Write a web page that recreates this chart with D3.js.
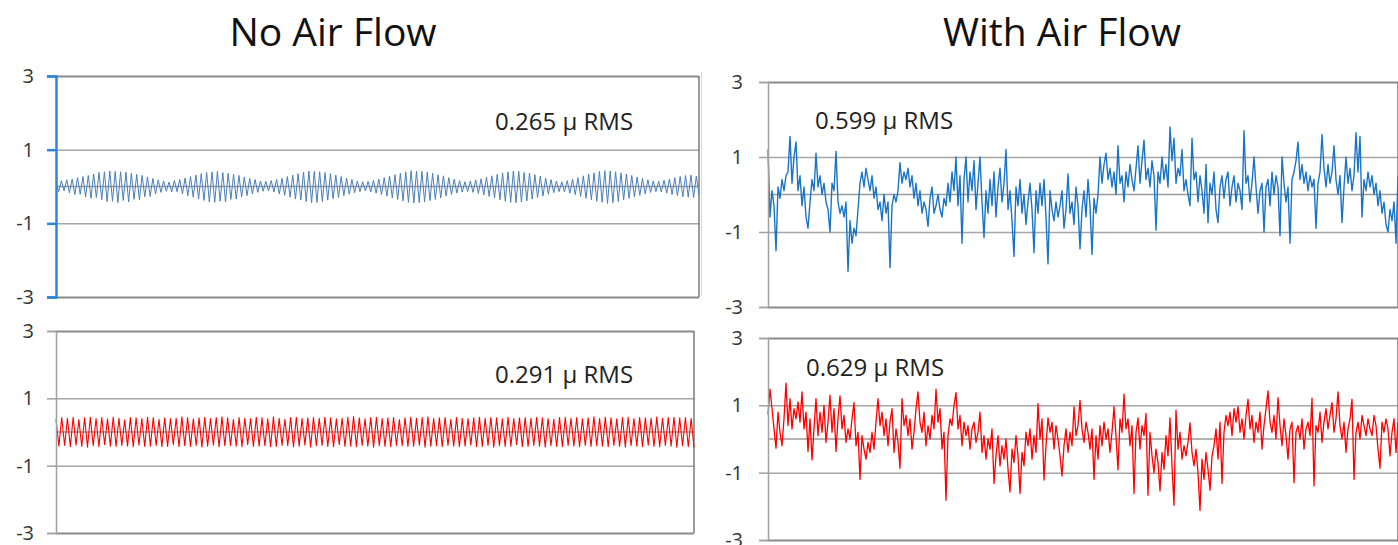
<!DOCTYPE html>
<html>
<head>
<meta charset="utf-8">
<script src="https://cdn.jsdelivr.net/npm/d3@7"></script>
<style>
  body { margin: 0; background: #fff; }
  svg { display: block; }
  text { font-family: "Open Sans", "Noto Sans", sans-serif; fill: #222; }
</style>
</head>
<body>
<svg id="chart" width="1398" height="545"></svg>
<script>
var yTicks = [3, 1, -1, -3]
var titles = ["No Air Flow", "With Air Flow"]
var rmsLabels = ["0.265 \u03bc RMS", "0.291 \u03bc RMS", "0.599 \u03bc RMS", "0.629 \u03bc RMS"]

// no air flow, blue trace (displacement, microns)
var noFlowBlue = [
  0.10,-0.14,0.16,-0.12,0.18,-0.17,0.20,-0.22,0.24,-0.21,0.27,-0.28,0.30,-0.32,0.34,-0.30,0.38,-0.36,0.40,-0.41,
  0.42,-0.40,0.41,-0.44,0.40,-0.38,0.39,-0.42,0.36,-0.35,0.33,-0.36,0.30,-0.28,0.26,-0.27,0.22,-0.20,0.18,-0.16,
  0.15,-0.13,0.12,-0.15,0.16,-0.14,0.19,-0.20,0.23,-0.25,0.27,-0.29,0.31,-0.34,0.35,-0.38,0.38,-0.42,0.40,-0.43,
  0.41,-0.40,0.38,-0.42,0.36,-0.35,0.33,-0.34,0.30,-0.28,0.26,-0.25,0.22,-0.20,0.19,-0.16,0.15,-0.13,0.14,-0.12,
  0.16,-0.15,0.19,-0.20,0.22,-0.24,0.27,-0.29,0.31,-0.34,0.35,-0.37,0.39,-0.41,0.42,-0.44,0.41,-0.43,0.40,-0.41,
  0.38,-0.37,0.35,-0.33,0.31,-0.30,0.27,-0.25,0.23,-0.21,0.19,-0.17,0.15,-0.14,0.13,-0.12,0.14,-0.15,0.17,-0.18,
  0.20,-0.22,0.24,-0.26,0.28,-0.31,0.32,-0.35,0.36,-0.39,0.40,-0.43,0.43,-0.45,0.42,-0.44,0.41,-0.42,0.39,-0.38,
  0.36,-0.35,0.32,-0.31,0.29,-0.26,0.24,-0.22,0.20,-0.18,0.16,-0.15,0.13,-0.14,0.15,-0.16,0.18,-0.19,0.21,-0.23,
  0.25,-0.27,0.29,-0.31,0.33,-0.36,0.37,-0.40,0.40,-0.43,0.42,-0.44,0.41,-0.42,0.38,-0.39,0.36,-0.34,0.32,-0.30,
  0.28,-0.26,0.23,-0.21,0.19,-0.17,0.15,-0.14,0.13,-0.15,0.16,-0.18,0.20,-0.22,0.24,-0.27,0.29,-0.32,0.34,-0.36,
  0.37,-0.40,0.41,-0.43,0.43,-0.46,0.42,-0.44,0.40,-0.41,0.37,-0.36,0.34,-0.32,0.30,-0.28,0.26,-0.24,0.22,-0.20,
  0.18,-0.16,0.15,-0.14,0.14,-0.15,0.17,-0.18,0.20,-0.22,0.24,-0.25,0.27,-0.28,0.30,-0.29,0.31,-0.30,0.28,-0.22
]

// no air flow, red trace
var noFlowRed = [
  0.38,-0.42,0.43,-0.40,0.41,-0.44,0.44,-0.39,0.37,-0.43,0.42,-0.45,0.44,-0.41,0.40,-0.44,0.43,-0.38,0.39,-0.42,
  0.44,-0.43,0.41,-0.40,0.36,-0.42,0.43,-0.44,0.42,-0.39,0.40,-0.43,0.44,-0.42,0.43,-0.40,0.38,-0.44,0.42,-0.43,
  0.40,-0.38,0.41,-0.44,0.45,-0.41,0.43,-0.43,0.39,-0.40,0.42,-0.45,0.44,-0.42,0.40,-0.39,0.43,-0.44,0.45,-0.41,
  0.42,-0.40,0.37,-0.42,0.43,-0.44,0.41,-0.38,0.40,-0.43,0.44,-0.42,0.42,-0.41,0.39,-0.44,0.45,-0.43,0.41,-0.40,
  0.38,-0.41,0.43,-0.44,0.44,-0.42,0.40,-0.39,0.42,-0.45,0.43,-0.41,0.41,-0.40,0.44,-0.43,0.42,-0.44,0.39,-0.38,
  0.41,-0.43,0.44,-0.42,0.46,-0.44,0.42,-0.40,0.39,-0.42,0.43,-0.45,0.44,-0.41,0.40,-0.43,0.42,-0.44,0.43,-0.40,
  0.37,-0.41,0.42,-0.43,0.44,-0.42,0.41,-0.39,0.43,-0.45,0.45,-0.42,0.40,-0.41,0.42,-0.44,0.43,-0.40,0.38,-0.42,
  0.43,-0.44,0.41,-0.42,0.40,-0.39,0.42,-0.44,0.44,-0.43,0.41,-0.40,0.43,-0.45,0.42,-0.41,0.39,-0.43,0.44,-0.42,
  0.40,-0.38,0.42,-0.44,0.43,-0.43,0.41,-0.40,0.44,-0.42,0.42,-0.45,0.40,-0.41,0.38,-0.43,0.43,-0.44,0.44,-0.40,
  0.41,-0.42,0.43,-0.44,0.39,-0.40,0.42,-0.43,0.45,-0.41,0.40,-0.42,0.44,-0.44,0.42,-0.40,0.39,-0.43,0.43,-0.45,
  0.44,-0.41,0.40,-0.42,0.43,-0.44,0.42,-0.39,0.41,-0.43,0.45,-0.44,0.41,-0.40,0.43,-0.42,0.44,-0.45,0.42,-0.41,
  0.43,-0.44,0.40,-0.46
]

// with air flow, blue trace
var flowBlue = [
  1.2,-0.6,0.1,-0.3,-1.5,0.2,-0.1,0.4,0.1,0.5,
  0.6,1.55,0.3,1.0,1.4,0.1,0.5,-0.3,0.2,-0.6,
  -0.9,-0.2,0.4,0.1,1.1,0.2,0.5,0.0,0.3,-0.2,
  -0.4,-1.0,0.3,0.1,1.15,-0.2,-0.5,-0.3,-0.6,-0.2,
  -2.05,-0.7,-1.3,-0.9,-1.1,-0.4,0.3,0.6,0.2,0.7,
  0.4,0.1,0.5,-0.1,0.2,-0.4,-0.2,-0.7,0.0,-0.5,
  -0.2,-1.95,-0.3,0.0,-0.2,0.1,0.85,0.3,0.6,0.4,
  0.7,0.2,0.5,-0.1,0.3,-0.3,0.1,-0.5,-0.2,-0.4,
  -0.85,-0.1,0.2,-0.5,-0.3,0.0,-0.4,-0.6,-0.1,-0.3,
  0.3,-0.2,0.6,0.1,1.0,-0.3,0.5,-1.3,0.4,1.0,
  -0.2,0.6,0.1,0.9,-0.4,0.3,1.0,-0.2,-1.15,0.1,
  -0.5,0.4,-0.3,0.6,-0.6,0.2,0.7,-0.2,0.3,1.2,
  -0.4,0.1,-0.7,-1.65,0.2,-0.3,0.4,-0.5,0.0,-0.8,
  -0.2,0.3,-0.4,-1.55,0.1,-0.5,0.3,-0.3,0.4,-0.6,
  -1.85,0.1,-0.4,-0.7,-0.2,-0.6,-0.3,0.1,-0.9,-0.4,
  0.55,-0.5,-0.2,-0.8,0.2,-0.3,-1.45,-0.4,0.1,-0.6,
  0.4,-0.3,-1.6,-0.1,-0.5,0.0,1.0,0.3,0.8,1.1,
  0.4,0.7,0.2,0.6,0.0,1.3,0.3,0.5,-0.2,0.6,
  0.2,0.8,0.4,0.1,0.7,1.3,0.3,0.9,1.45,0.4,
  0.7,0.2,0.9,0.5,-0.95,0.6,0.3,1.0,0.4,0.8,
  0.2,1.8,0.9,1.5,0.3,0.7,0.5,1.2,0.1,0.4,
  0.0,-0.3,1.5,0.4,0.6,-0.2,0.5,0.1,-0.5,0.8,
  -0.75,0.3,0.0,0.6,-0.4,-0.75,0.2,0.5,-0.1,0.4,
  0.6,-0.3,0.2,0.5,-0.2,0.3,0.1,-0.4,1.7,0.3,
  0.5,-0.2,0.3,1.0,0.2,-0.5,0.1,0.3,-1.0,0.2,
  0.4,-0.3,0.6,0.0,0.5,0.2,-1.1,1.0,0.3,-0.2,
  0.2,-1.3,0.4,0.6,0.9,1.4,0.4,0.8,0.3,0.6,
  0.1,0.5,0.2,0.4,-0.9,0.3,0.6,1.6,0.7,0.2,
  0.8,0.3,0.6,1.3,0.4,0.0,0.5,-0.75,0.2,1.0,
  0.3,0.7,0.1,0.5,1.65,0.6,1.55,-0.6,0.4,0.1,
  0.6,0.2,0.5,0.0,0.3,-0.3,0.1,-0.5,-0.2,-0.8,
  -1.0,-0.4,-0.7,-0.2,-1.3,0.5
]

// with air flow, red trace
var flowRed = [
  0.73,1.48,0.9,0.3,-0.27,0.8,0.2,-0.2,0.6,1.66,
  0.4,1.2,0.3,0.9,0.6,1.1,0.5,1.4,0.3,0.8,
  -0.37,0.6,-0.62,0.3,1.2,0.1,0.8,0.2,1.0,-0.1,
  0.5,1.3,0.2,0.9,-0.37,0.6,1.28,0.3,0.7,-0.1,
  0.3,0.0,0.6,1.08,-0.2,0.2,-1.2,0.1,-0.3,-0.6,
  -0.1,-0.4,0.2,-0.3,0.5,1.2,0.4,0.8,0.1,0.6,
  -0.2,0.5,0.9,-0.4,0.3,-0.1,-0.87,1.2,0.4,0.7,
  0.1,0.6,-0.3,0.2,0.9,1.4,0.5,0.2,0.8,-0.2,
  0.4,0.0,0.7,0.3,1.48,0.5,0.9,-0.3,0.2,-1.82,
  0.1,0.6,0.4,1.0,1.38,0.3,0.7,-0.2,0.5,0.1,
  0.4,-0.3,0.3,0.5,-0.1,0.2,0.8,-0.4,0.1,-0.6,
  0.0,-0.3,0.3,-1.32,-0.5,0.1,-0.8,-0.2,-0.6,0.0,
  -0.9,-1.57,-0.3,-0.7,0.1,-0.5,-1.62,-0.4,-0.8,0.2,
  -0.2,0.3,-0.6,0.1,-0.4,1.05,0.0,0.6,-1.22,-0.2,
  0.63,0.2,0.5,-0.3,0.4,0.0,-0.5,-1.1,-0.2,0.3,
  -0.4,0.2,-0.2,0.96,0.1,0.4,1.15,0.3,-0.1,0.5,
  0.2,-0.3,0.3,-1.2,0.1,-0.6,0.4,-0.2,0.5,0.0,
  0.3,-0.4,0.2,0.96,0.1,-0.92,0.6,0.2,1.33,0.3,
  0.6,-0.2,0.4,-1.62,0.2,0.63,-0.3,0.4,0.1,0.76,
  -1.67,0.2,-0.5,-1.0,-0.3,-0.7,-1.54,-0.4,-0.9,0.1,
  -0.5,0.63,-0.8,-1.97,0.86,-0.3,0.2,-0.6,-0.2,-0.5,
  -0.1,0.48,-0.4,-0.8,-0.3,-1.0,-2.12,-0.6,-1.2,-0.4,
  -0.9,-1.52,-0.5,-0.2,0.3,-0.6,0.5,-1.32,0.2,0.7,
  0.4,0.8,0.1,0.9,0.5,0.96,0.2,0.6,0.0,0.7,
  1.18,0.3,0.7,-0.1,0.5,0.2,0.8,-0.3,0.4,0.9,
  1.43,0.5,0.2,0.7,0.0,1.23,0.4,-0.2,0.6,0.1,
  -0.6,0.3,0.5,-1.3,0.2,0.4,0.0,0.6,-0.3,0.3,
  0.5,0.1,1.21,-1.39,0.4,0.2,0.8,-0.1,0.5,0.9,
  0.3,0.7,1.08,0.2,0.6,1.4,0.4,0.0,0.5,-0.4,
  0.3,0.6,1.18,-1.2,0.2,0.5,0.0,0.7,0.4,0.1,
  0.6,0.3,0.1,0.7,0.4,-0.3,-0.87,0.5,0.2,0.6,
  0.3,-0.5,0.2,0.6,-0.4,0.5
]

var svg = d3.select("#chart")

// plot boxes, one per chart
var panels = [
  {data: noFlowBlue, color: "#4a7ebb", width: 1, left: 56, right: 699, top: 76, bottom: 297, axisColor: "#2f86d6", axisWidth: 2.5, label: rmsLabels[0], lx: 495, ly: 130, pad: 13},
  {data: noFlowRed, color: "#ff0000", width: 1.1, left: 56, right: 694, top: 331, bottom: 533, axisColor: "#a0a0a0", axisWidth: 1.5, label: rmsLabels[1], lx: 495, ly: 383, pad: 13},
  {data: flowBlue, color: "#1a74c6", width: 1.4, left: 768, right: 1398, top: 82, bottom: 307, axisColor: "#a0a0a0", axisWidth: 1.5, label: rmsLabels[2], lx: 815, ly: 129, pad: 16},
  {data: flowRed, color: "#ff0000", width: 1.3, left: 768, right: 1398, top: 338, bottom: 540, axisColor: "#a0a0a0", axisWidth: 1.5, label: rmsLabels[3], lx: 806, ly: 376, pad: 16}
]

// faint edge of the left chart object
svg.append("line")
  .attr("x1", 701.5).attr("x2", 701.5)
  .attr("y1", 72).attr("y2", 296)
  .style("stroke", "#d8d8d8")

function drawPanel(p){
  var x = d3.scaleLinear().domain([0, p.data.length - 1]).range([p.left, p.right])
  var y = d3.scaleLinear().domain([-3, 3]).range([p.bottom, p.top])

  //gridlines
  var grid = svg.append("g")
    .attr("transform", `translate(${p.left},0)`)
    .call(d3.axisLeft(y).tickValues(yTicks).tickSize(-(p.right - p.left)).tickFormat(""))
  grid.select(".domain").remove()
  grid.selectAll("line").style("stroke", "#a6a6a6").style("stroke-width", 1.5)
  grid.selectAll(".tick").filter(d => d == 3 || d == -3).select("line").style("stroke", "#8a8a8a").style("stroke-width", 2)

  //zero line
  svg.append("line")
    .attr("x1", p.left).attr("x2", p.right)
    .attr("y1", y(0)).attr("y2", y(0))
    .style("stroke", "#9a9a9a")
    .style("stroke-width", 1.5)

  //right border
  svg.append("line")
    .attr("x1", p.right).attr("x2", p.right)
    .attr("y1", p.top).attr("y2", p.bottom)
    .style("stroke", "#7a7a7a")
    .style("stroke-width", 1.5)

  var line = d3.line().x((d, i) => x(i)).y(d => y(d))
  svg.append("path")
    .datum(p.data)
    .attr("d", line)
    .style("fill", "none")
    .style("stroke", p.color)
    .style("stroke-width", p.width)
    .style("stroke-linejoin", "round")

  //value axis
  var axis = svg.append("g")
    .attr("transform", `translate(${p.left},0)`)
    .call(d3.axisLeft(y).tickValues(yTicks).tickSize(9).tickPadding(p.pad).tickFormat(d3.format("d")))
  axis.select(".domain").style("stroke", p.axisColor).style("stroke-width", p.axisWidth)
  axis.selectAll(".tick line").style("stroke", p.axisColor).style("stroke-width", p.axisWidth)
  axis.selectAll(".tick text")
    .style("font-size", "20px")
    .style("fill", "#333")
    .text(d => d < 0 ? "-" + Math.abs(d) : d)

  svg.append("text")
    .attr("x", p.lx)
    .attr("y", p.ly)
    .style("font-size", "24px")
    .text(p.label)
}

panels.forEach(drawPanel)

svg.append("text").text(titles[0])
  .attr("x", 333).attr("y", 46)
  .attr("text-anchor", "middle")
  .style("font-size", "39px")
  .style("fill", "#111")

svg.append("text").text(titles[1])
  .attr("x", 1062).attr("y", 46)
  .attr("text-anchor", "middle")
  .style("font-size", "39px")
  .style("fill", "#111")
</script>
</body>
</html>
